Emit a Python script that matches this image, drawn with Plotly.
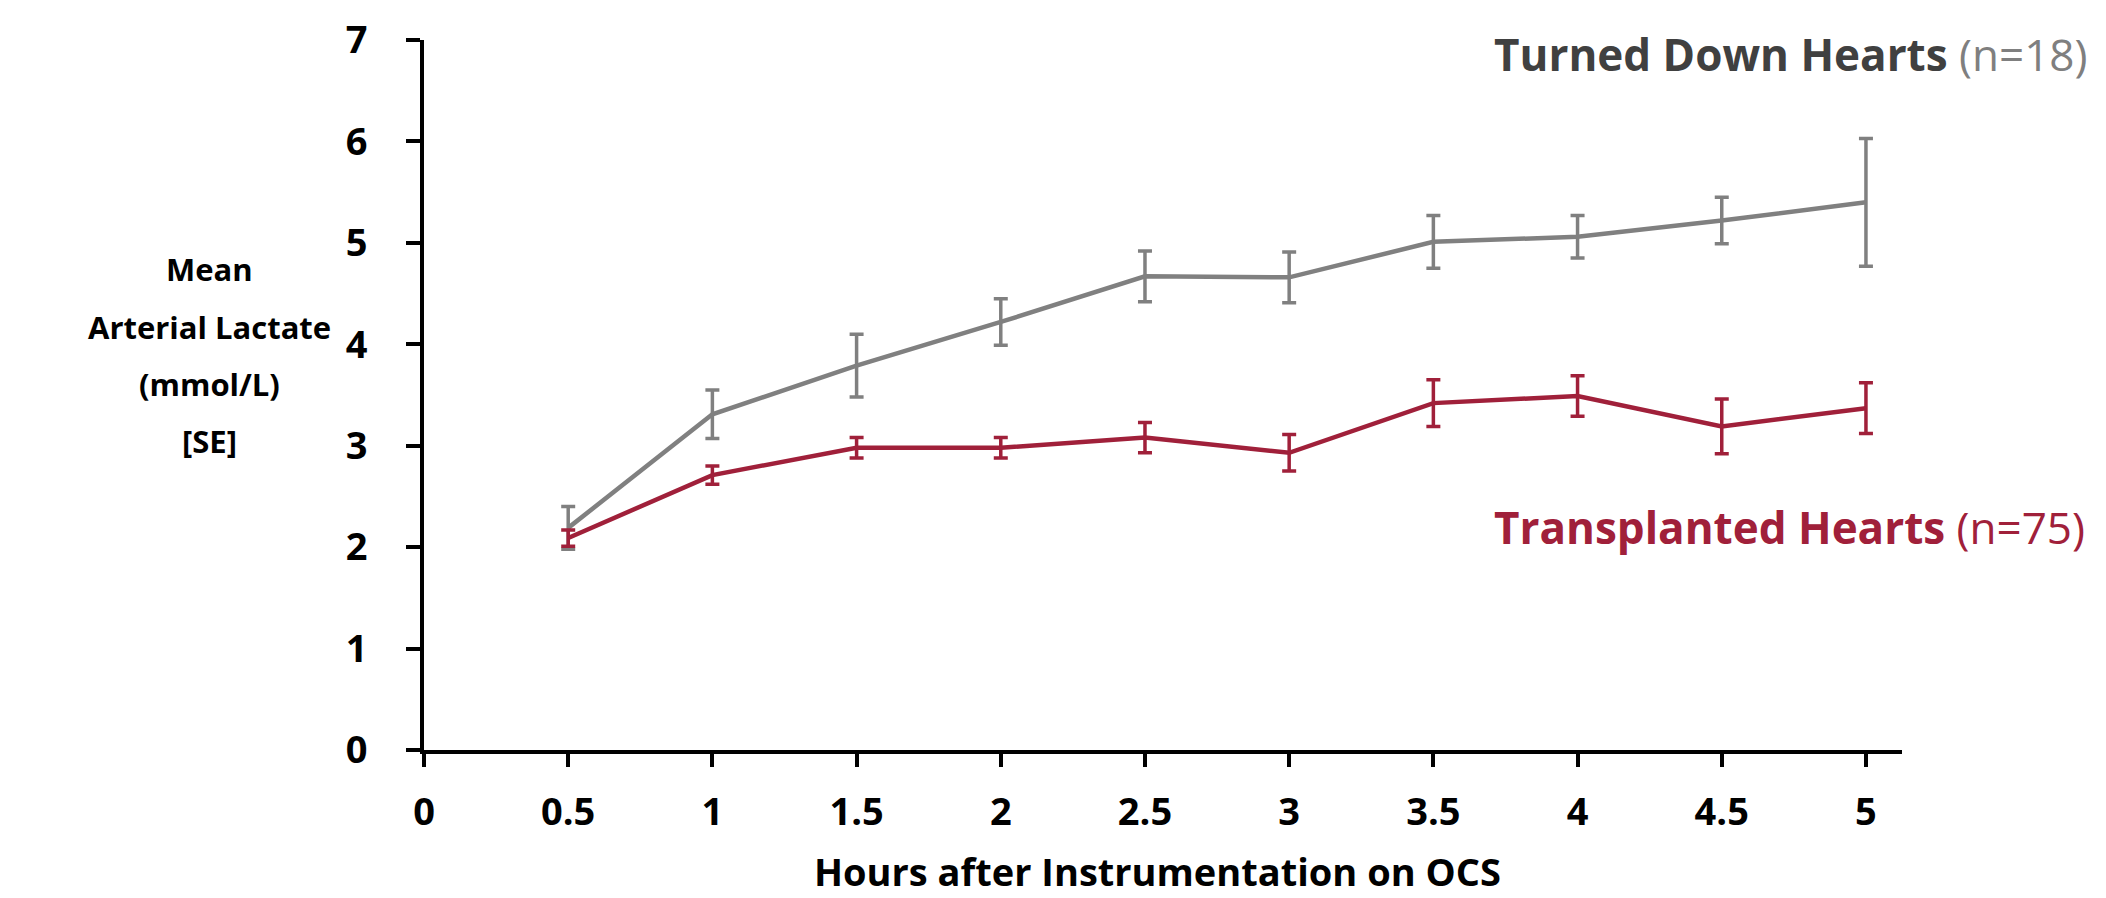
import plotly.graph_objects as go

hours = [0.5, 1, 1.5, 2, 2.5, 3, 3.5, 4, 4.5, 5]
turned_down = [2.19, 3.31, 3.79, 4.22, 4.67, 4.66, 5.01, 5.06, 5.22, 5.40]
turned_down_se = [0.21, 0.24, 0.31, 0.23, 0.25, 0.25, 0.26, 0.21, 0.23, 0.63]
transplanted = [2.09, 2.71, 2.98, 2.98, 3.08, 2.93, 3.42, 3.49, 3.19, 3.37]
transplanted_se = [0.08, 0.09, 0.10, 0.10, 0.15, 0.18, 0.23, 0.20, 0.27, 0.25]
x_ticks = [0, 0.5, 1, 1.5, 2, 2.5, 3, 3.5, 4, 4.5, 5]
y_ticks = [0, 1, 2, 3, 4, 5, 6, 7]
y_title_lines = ["Mean", "Arterial Lactate", "(mmol/L)", "[SE]"]

GRAY = "#808080"
RED = "#A0203A"
FONT = "Open Sans"

fig = go.Figure()
fig.add_trace(go.Scatter(
    x=hours, y=turned_down, mode="lines",
    line=dict(color=GRAY, width=4.5),
    error_y=dict(type="data", array=turned_down_se, visible=True,
                 color=GRAY, thickness=3.5, width=7),
    showlegend=False))
fig.add_trace(go.Scatter(
    x=hours, y=transplanted, mode="lines",
    line=dict(color=RED, width=4.5),
    error_y=dict(type="data", array=transplanted_se, visible=True,
                 color=RED, thickness=3.5, width=7),
    showlegend=False))

fig.update_layout(
    width=2106, height=898,
    margin=dict(l=424, r=204, t=32, b=148),
    paper_bgcolor="white", plot_bgcolor="white",
    font=dict(family=FONT, color="black"),
    xaxis=dict(range=[0, 5.125], tickvals=x_ticks, ticktext=[str(v) for v in x_ticks],
               showgrid=False, zeroline=False, showline=True, linecolor="black", linewidth=4,
               ticks="outside", ticklen=13, tickwidth=4, tickcolor="black",
               tickfont=dict(family=FONT, size=38, color="black", weight="bold"),
               ticklabelstandoff=12),
    yaxis=dict(range=[0, 7], tickvals=y_ticks,
               showgrid=False, zeroline=False, showline=True, linecolor="black", linewidth=4,
               ticks="outside", ticklen=14, tickwidth=4, tickcolor="black",
               tickfont=dict(family=FONT, size=38, color="black", weight="bold"),
               ticklabelstandoff=31),
)

# y-axis title, one line per annotation to reproduce the wide line spacing
for i, line in enumerate(y_title_lines):
    y_px = 264 + 58 * i
    fig.add_annotation(
        xref="paper", yref="paper", x=-0.145, y=(750 - y_px) / 718,
        xanchor="center", yanchor="middle",
        text=f"<b>{line}</b>", showarrow=False,
        font=dict(family=FONT, size=31, color="black"))

# x-axis title
fig.add_annotation(
    xref="paper", yref="paper", x=0.4966, y=(750 - 872) / 718,
    xanchor="center", yanchor="middle",
    text="<b>Hours after Instrumentation on OCS</b>", showarrow=False,
    font=dict(family=FONT, size=38, color="black"))

fig.add_annotation(
    xref="paper", yref="paper", x=0.7226, y=(750 - 46) / 718, xanchor="left", yanchor="middle",
    text="<b>Turned Down Hearts</b> <span style='color:#7f7f7f'>(n=18)</span>",
    showarrow=False, font=dict(family=FONT, size=44, color="#404040"))

fig.add_annotation(
    xref="paper", yref="paper", x=0.7226, y=(750 - 524) / 718, xanchor="left", yanchor="middle",
    text="<b>Transplanted Hearts</b> (n=75)",
    showarrow=False, font=dict(family=FONT, size=44, color=RED))

fig.write_html("out.html",
               config={"displayModeBar": False},
               post_script="document.body.style.margin='0';document.body.style.padding='0';")
